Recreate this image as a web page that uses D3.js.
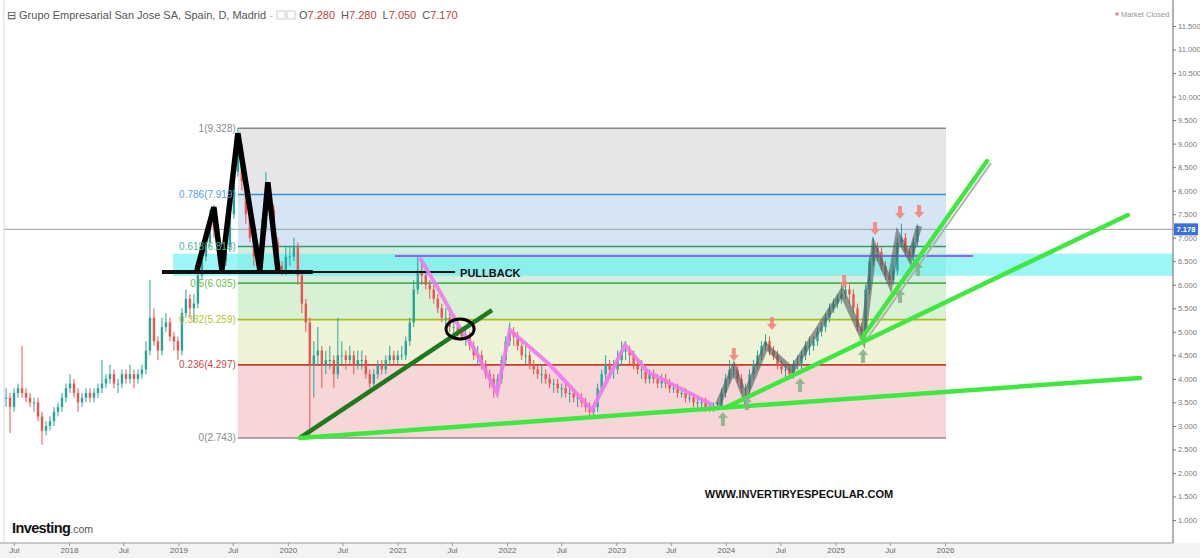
<!DOCTYPE html>
<html><head><meta charset="utf-8">
<script src="https://cdn.jsdelivr.net/npm/d3@7"></script>
<style>
body{margin:0;background:#fff;}
svg{display:block;font-family:"Liberation Sans",Arial,sans-serif;}
</style>
</head><body>
<svg id="c" width="1200" height="558"></svg>
<script>
// ---------- DATA ----------
const firstBarDate = "2017-06-05";
const lastBarDate  = "2025-10-01";
const closes = [
3.6,3.4,3.7,3.8,3.7,3.6,3.5,3.5,3.2,2.9,
3.0,3.1,3.3,3.4,3.6,3.8,3.9,3.7,3.5,3.6,
3.7,3.6,3.7,3.8,3.9,4.0,4.1,3.9,3.9,4.1,
4.0,4.1,4.0,4.1,4.2,4.6,5.3,4.8,4.6,5.1,
5.2,4.9,4.8,4.6,5.4,5.7,5.5,5.6,6.2,6.6,
6.9,7.3,7.2,6.8,6.5,6.8,7.5,8.4,8.9,8.2,
7.5,7.0,6.6,6.5,7.2,7.9,7.6,6.9,6.4,6.3,
6.6,6.6,6.8,6.2,5.6,5.2,4.3,4.5,4.6,4.3,
4.4,4.4,4.1,4.5,4.5,4.4,4.5,4.3,4.4,4.4,
4.1,3.9,4.1,4.3,4.2,4.4,4.5,4.4,4.5,4.5,
4.8,5.2,5.9,6.3,6.2,6.0,5.9,5.7,5.5,5.3,
5.3,5.1,5.1,5.0,4.9,4.9,4.7,4.5,4.5,4.3,
4.1,4.0,3.8,4.0,4.4,4.8,5.0,4.9,4.7,4.5,
4.5,4.3,4.2,4.1,4.1,4.0,3.9,3.9,3.8,3.8,
3.7,3.7,3.6,3.6,3.5,3.4,3.3,3.4,3.8,4.1,
4.3,4.2,4.2,4.4,4.6,4.6,4.5,4.3,4.2,4.2,
4.0,4.1,4.0,3.9,4.0,3.9,3.8,3.8,3.7,3.7,
3.6,3.6,3.5,3.5,3.5,3.4,3.4,3.4,3.4,3.7,
4.0,4.2,4.2,4.0,3.8,3.8,4.1,4.3,4.5,4.7,
4.8,4.6,4.5,4.3,4.2,4.2,4.1,4.3,4.3,4.5,
4.7,4.7,4.8,5.0,5.1,5.3,5.5,5.6,5.7,5.8,
5.9,5.8,5.5,5.1,5.0,5.9,6.5,6.8,6.7,6.4,
6.2,6.1,6.3,6.9,7.0,6.7,6.6,6.9,7.17];
const highs = [
3.8,3.7,3.8,3.9,4.7,3.8,3.7,3.6,3.6,3.3,
3.1,3.2,3.4,3.5,3.7,3.9,4.1,4.0,3.8,3.7,
3.8,3.8,3.8,3.9,4.4,4.1,4.3,4.2,4.0,4.2,
4.2,4.3,4.2,4.2,4.3,4.8,6.1,5.5,4.9,5.3,
5.4,5.3,5.0,4.9,5.5,5.9,5.8,5.8,6.3,6.8,
7.1,7.6,7.7,7.3,6.9,7.0,7.7,8.7,9.33,9.0,
8.3,7.6,7.1,6.7,7.4,8.4,8.1,7.7,7.0,6.5,
6.8,6.8,7.0,6.9,6.3,5.7,5.3,4.8,5.1,4.7,
4.6,4.7,4.5,5.3,4.8,4.6,4.7,4.6,4.6,4.6,
4.5,4.2,4.2,4.4,4.4,4.5,4.7,4.6,4.6,4.7,
4.9,5.3,6.1,6.6,6.5,6.3,6.1,6.0,5.8,5.6,
5.5,5.4,5.3,5.2,5.1,5.1,5.0,4.8,4.7,4.6,
4.4,4.2,4.1,4.1,4.5,4.9,5.2,5.1,5.0,4.8,
4.7,4.6,4.4,4.3,4.3,4.2,4.1,4.0,4.0,3.9,
3.9,3.8,3.8,3.7,3.7,3.6,3.5,3.5,3.9,4.2,
4.5,4.4,4.4,4.6,4.8,4.8,4.7,4.6,4.4,4.4,
4.3,4.2,4.2,4.1,4.1,4.1,4.0,3.9,3.9,3.8,
3.8,3.7,3.7,3.6,3.6,3.6,3.5,3.5,3.5,3.8,
4.1,4.4,4.3,4.3,4.1,3.9,4.2,4.4,4.6,4.8,
4.95,4.9,4.7,4.6,4.4,4.3,4.3,4.4,4.5,4.6,
4.8,4.9,4.9,5.1,5.2,5.4,5.6,5.7,5.8,6.0,
6.1,6.0,5.9,5.6,5.2,6.0,6.6,7.0,6.9,6.8,
6.5,6.3,6.4,7.0,7.3,7.1,6.8,7.0,7.28];
const lows = [
3.4,2.85,3.3,3.6,3.6,3.5,3.4,3.3,3.1,2.6,
2.8,2.9,3.0,3.2,3.3,3.5,3.7,3.6,3.3,3.4,
3.5,3.5,3.5,3.6,3.7,3.8,3.9,3.8,3.7,3.8,
3.9,3.9,3.8,3.9,4.0,4.1,4.5,4.7,4.4,4.5,
5.0,4.8,4.6,4.4,4.5,5.3,5.3,5.2,5.5,6.1,
6.5,6.8,7.0,6.6,6.3,6.4,6.7,7.4,8.3,8.0,
7.3,6.9,6.4,6.3,6.4,7.1,7.4,6.8,6.3,6.2,
6.2,6.4,6.5,6.0,5.4,5.0,2.74,3.6,4.3,3.8,
4.1,4.2,3.8,4.0,4.3,4.2,4.3,4.1,4.2,4.2,
4.0,3.8,3.8,4.0,4.1,4.1,4.3,4.3,4.3,4.4,
4.4,4.7,5.1,5.8,6.0,5.9,5.7,5.6,5.4,5.2,
5.1,5.0,4.9,4.9,4.8,4.7,4.6,4.4,4.3,4.2,
4.0,3.8,3.6,3.7,3.9,4.3,4.7,4.7,4.6,4.4,
4.3,4.2,4.1,4.0,3.9,3.9,3.8,3.7,3.7,3.6,
3.6,3.5,3.5,3.4,3.4,3.3,3.2,3.2,3.3,3.7,
4.0,4.0,4.0,4.1,4.3,4.4,4.3,4.2,4.1,4.0,
3.9,3.9,3.9,3.8,3.8,3.8,3.7,3.7,3.6,3.6,
3.5,3.5,3.4,3.4,3.4,3.3,3.3,3.3,3.35,3.4,
3.6,3.9,4.0,3.9,3.7,3.6,3.7,4.0,4.2,4.4,
4.6,4.5,4.4,4.2,4.1,4.0,4.0,4.0,4.2,4.2,
4.4,4.5,4.6,4.7,4.9,5.0,5.2,5.4,5.5,5.6,
5.7,5.6,5.4,5.0,4.85,4.9,5.8,6.4,6.5,6.3,
6.1,6.0,6.0,6.2,6.8,6.6,6.5,6.5,6.8];

const xTickDates  = ["2017-07-01","2018-01-01","2018-07-01","2019-01-01","2019-07-01","2020-01-01","2020-07-01","2021-01-01","2021-07-01","2022-01-01","2022-07-01","2023-01-01","2023-07-01","2024-01-01","2024-07-01","2025-01-01","2025-07-01","2026-01-01"];
const xTickLabels = ["Jul","2018","Jul","2019","Jul","2020","Jul","2021","Jul","2022","Jul","2023","Jul","2024","Jul","2025","Jul","2026"];
const yTicks = [1,1.5,2,2.5,3,3.5,4,4.5,5,5.5,6,6.5,7,7.5,8,8.5,9,9.5,10,10.5,11,11.5];

const fibRatios = [1,0.786,0.618,0.5,0.382,0.236,0];
const fibLabels = ["1(9.328)","0.786(7.919)","0.618(6.813)","0.5(6.035)","0.382(5.259)","0.236(4.297)","0(2.743)"];
const fibHigh = 9.328, fibLow = 2.743;
const fibSpan = [2019.543, 2026.009];          // decimal years
const lastPrice = 7.178;

// drawings (decimal year, price)
const cyanBandSpan = [2018.95, 2028.5], cyanBandPrices = [6.19, 6.66];
const purpleLine = [[2020.977,6.61],[2026.256,6.61]];
const necklineThick = [[2018.849,6.27],[2020.228,6.27]];
const necklineThin  = [[2020.228,6.27],[2021.525,6.27]];
const mPattern = [[2019.169,6.31],[2019.324,7.65],[2019.397,6.31],[2019.543,9.22],[2019.744,6.31],[2019.817,8.18],[2019.909,6.31]];
const darkGreenLine = [[2020.110,2.743],[2021.863,5.463]];
const greenLines = [
  [[2020.110,2.743],[2027.781,4.018]],
  [[2024.009,3.402],[2027.671,7.482]],
  [[2025.242,4.868],[2026.384,8.630]]];
const pinkPath = [[2021.205,6.569],[2021.388,5.846],[2021.553,5.144],[2021.708,4.613],[2021.909,3.699],[2022.027,5.038],[2022.393,4.294],[2022.776,3.338],[2023.078,4.719],[2023.288,4.146],[2023.881,3.444]];
const grayPath = [[2023.927,3.444],[2024.073,4.231],[2024.174,3.614],[2024.365,4.698],[2024.603,4.188],[2025.059,5.846],[2025.251,4.868],[2025.352,6.802],[2025.498,6.037],[2025.571,7.036],[2025.680,6.569],[2025.763,7.249]];
const redArrows = [[2024.073,4.379],[2024.420,5.038],[2025.078,5.931],[2025.361,7.057],[2025.589,7.397],[2025.763,7.419]];
const greenArrows = [[2023.973,3.295],[2024.192,3.636],[2024.676,4.018],[2025.251,4.634],[2025.589,5.910],[2025.753,6.483]];
const circleAt = [2021.571, 5.06];
const pullbackAt = [2021.571, 6.27];
const siteTextAt = [2023.808, 1.47];

// ---------- SCALES ----------
const svg = d3.select("#c");
const W = 1200, H = 558, plotL = 4, plotR = 1173, plotB = 543;
const x = d3.scaleUtc().domain([new Date(Date.UTC(2018,0,1)), new Date(Date.UTC(2026,0,1))]).range([69,945]);
const y = d3.scaleLinear().domain([1,11.5]).range([520,26]);
function yd(f){const yr=Math.floor(f);const s=Date.UTC(yr,0,1),e=Date.UTC(yr+1,0,1);return new Date(s+(f-yr)*(e-s));}
const X = f => x(yd(f));
const line = d3.line().x(d=>X(d[0])).y(d=>y(d[1]));

svg.append("rect").attr("width",W).attr("height",H).attr("fill","#fff");
svg.append("defs").append("clipPath").attr("id","clip").append("rect")
  .attr("x",plotL).attr("y",0).attr("width",plotR-plotL).attr("height",plotB);
const g = svg.append("g").attr("clip-path","url(#clip)");

// ---------- FIB ----------
const fibFill = ["#e6e6e8","#d5e5f4","#d3ede0","#d8f0d4","#eef3d8","#f6d6d6"];
const fibLine = ["#8a8a8a","#3a8fd0","#2e9e70","#4caf50","#a4bd1a","#c33a30","#9a8888"];
const fibText = ["#8a8a8a","#5ba0d6","#4cb495","#6abd4e","#b8c430","#cc4a44","#8a8a8a"];
const fibVal = r => fibLow + r*(fibHigh-fibLow);
const fx0 = X(fibSpan[0]), fx1 = X(fibSpan[1]);
for(let i=0;i<fibRatios.length-1;i++){
  g.append("rect").attr("x",fx0).attr("width",fx1-fx0)
   .attr("y",y(fibVal(fibRatios[i]))).attr("height",y(fibVal(fibRatios[i+1]))-y(fibVal(fibRatios[i])))
   .attr("fill",fibFill[i]);
}
// cyan band
g.append("rect").attr("x",X(cyanBandSpan[0])).attr("width",X(cyanBandSpan[1])-X(cyanBandSpan[0]))
 .attr("y",y(cyanBandPrices[1])).attr("height",y(cyanBandPrices[0])-y(cyanBandPrices[1]))
 .attr("fill","#5ff0f0").attr("opacity",0.62);
fibRatios.forEach((r,i)=>{
  g.append("line").attr("x1",fx0).attr("x2",fx1).attr("y1",y(fibVal(r))).attr("y2",y(fibVal(r)))
   .attr("stroke",fibLine[i]).attr("stroke-width",1.6);
  svg.append("text").attr("x",fx0-2).attr("y",y(fibVal(r))+3.5).attr("text-anchor","end")
   .attr("font-size",10).attr("fill",fibText[i]).text(fibLabels[i]);
});

// last price line
g.append("line").attr("x1",0).attr("x2",plotR).attr("y1",y(lastPrice)).attr("y2",y(lastPrice))
 .attr("stroke","#a0a0a0").attr("stroke-width",1);

// ---------- CANDLES ----------
const t0 = new Date(firstBarDate+"T00:00:00Z"), t1 = new Date(lastBarDate+"T00:00:00Z");
const n = closes.length;
const bars = closes.map((c,i)=>({
  date:new Date(+t0 + (t1-t0)*i/(n-1)),
  o: i?closes[i-1]:c, c, h:highs[i], l:lows[i]}));
const cg = g.append("g");
bars.forEach(b=>{
  const col = b.c>=b.o ? "#26a69a" : "#ef5350";
  const cx = x(b.date);
  cg.append("line").attr("x1",cx).attr("x2",cx).attr("y1",y(b.h)).attr("y2",y(b.l)).attr("stroke",col).attr("stroke-width",1);
  const top = y(Math.max(b.o,b.c)), bot = y(Math.min(b.o,b.c));
  cg.append("rect").attr("x",cx-1.2).attr("width",2.4).attr("y",top).attr("height",Math.max(1,bot-top)).attr("fill",col);
});

// ---------- DRAWINGS ----------
g.append("path").datum(purpleLine).attr("d",line).attr("stroke","#9b5ff0").attr("stroke-width",2).attr("fill","none");
g.append("path").datum(necklineThin).attr("d",line).attr("stroke","#111").attr("stroke-width",2).attr("fill","none");
g.append("path").datum(necklineThick).attr("d",line).attr("stroke","#111").attr("stroke-width",4).attr("fill","none");
g.append("path").datum(mPattern).attr("d",line).attr("stroke","#000").attr("stroke-width",5.5).attr("fill","none").attr("stroke-linejoin","miter");
g.append("path").datum(pinkPath).attr("d",line).attr("stroke","#f07af0").attr("stroke-width",4).attr("fill","none").attr("opacity",0.9);
g.append("path").datum(darkGreenLine).attr("d",line).attr("stroke","#1f7a1f").attr("stroke-width",4.5).attr("fill","none");
g.append("path").datum(grayPath).attr("d",line).attr("stroke","#505a5a").attr("stroke-width",6).attr("fill","none").attr("opacity",0.6);
g.append("path").datum(greenLines[2]).attr("d",line).attr("stroke","#b0b0b0").attr("stroke-width",2).attr("fill","none")
 .attr("transform","translate(4,2)");
greenLines.forEach(l=>g.append("path").datum(l).attr("d",line).attr("stroke","#3ee83e").attr("stroke-width",4.5).attr("fill","none").attr("stroke-linecap","round"));
g.append("ellipse").attr("cx",X(circleAt[0])).attr("cy",y(circleAt[1])).attr("rx",14).attr("ry",10)
 .attr("fill","none").attr("stroke","#000").attr("stroke-width",3);

// arrows
const downArrow = "M0,0 L-5,-6 L-2,-6 L-2,-13 L2,-13 L2,-6 L5,-6 Z";
const upArrow   = "M0,0 L-5,6 L-2,6 L-2,14 L2,14 L2,6 L5,6 Z";
redArrows.forEach(a=>g.append("path").attr("d",downArrow).attr("transform",`translate(${X(a[0])},${y(a[1])})`).attr("fill","#f2857c").attr("opacity",0.9));
greenArrows.forEach(a=>g.append("path").attr("d",upArrow).attr("transform",`translate(${X(a[0])},${y(a[1])})`).attr("fill","#86b486").attr("opacity",0.9));

// texts
g.append("text").attr("x",X(pullbackAt[0])).attr("y",y(pullbackAt[1])+5).attr("font-size",11).attr("font-weight","bold")
 .attr("fill","#111").text("PULLBACK");
g.append("text").attr("x",X(siteTextAt[0])).attr("y",y(siteTextAt[1])).attr("font-size",11).attr("font-weight","bold")
 .attr("fill","#111").text("WWW.INVERTIRYESPECULAR.COM");

// ---------- FRAME & AXES ----------
svg.append("rect").attr("x",0).attr("y",plotB).attr("width",W).attr("height",H-plotB).attr("fill","#f3f3f3");
svg.append("line").attr("x1",plotL).attr("x2",plotL).attr("y1",0).attr("y2",plotB).attr("stroke","#d8d8d8");
svg.append("line").attr("x1",0).attr("x2",plotR).attr("y1",plotB).attr("y2",plotB).attr("stroke","#b8b8b8").attr("stroke-width",1.5);
svg.append("line").attr("x1",plotR).attr("x2",plotR).attr("y1",0).attr("y2",plotB).attr("stroke","#666");

const ya = svg.append("g").attr("transform",`translate(${plotR},0)`)
  .call(d3.axisRight(y).tickValues(yTicks).tickFormat(d3.format(".3f")).tickSize(3).tickPadding(2));
ya.select(".domain").remove();
ya.selectAll("line").attr("stroke","#777");
ya.selectAll("text").attr("font-size",7.6).attr("fill","#777").attr("font-family","Liberation Sans, Arial");

const xa = svg.append("g").attr("transform",`translate(0,${plotB})`)
  .call(d3.axisBottom(x).tickValues(xTickDates.map(d=>new Date(d+"T00:00:00Z"))).tickFormat((d,i)=>xTickLabels[i]).tickSize(3).tickPadding(1));
xa.select(".domain").remove();
xa.selectAll("line").attr("stroke","#999");
xa.selectAll("text").attr("font-size",8).attr("fill","#666").attr("font-family","Liberation Sans, Arial");

// last price tag
svg.append("rect").attr("x",plotR+1).attr("y",y(lastPrice)-6).attr("width",24).attr("height",12).attr("fill","#3b6fd9");
svg.append("text").attr("x",plotR+13).attr("y",y(lastPrice)+3).attr("text-anchor","middle").attr("font-size",7.6)
 .attr("font-weight","bold").attr("fill","#fff").text(lastPrice.toFixed(3));

// header
const hdr = svg.append("text").attr("x",7).attr("y",19).attr("font-size",11).attr("fill","#555");
hdr.append("tspan").text("⊟ ");
hdr.append("tspan").text("Grupo Empresarial San Jose SA, Spain, D, Madrid");
hdr.append("tspan").attr("fill","#bbb").text(" - ");
svg.append("rect").attr("x",277).attr("y",11).attr("width",8).attr("height",8).attr("fill","none").attr("stroke","#ccc");
svg.append("rect").attr("x",287).attr("y",11).attr("width",8).attr("height",8).attr("fill","none").attr("stroke","#ccc");
const ohlc = [["O","7.280"],["H","7.280"],["L","7.050"],["C","7.170"]];
const oh = svg.append("text").attr("x",299).attr("y",19).attr("font-size",11).attr("fill","#555");
ohlc.forEach((p,i)=>{oh.append("tspan").attr("dx",i?6:0).text(p[0]);oh.append("tspan").attr("fill","#b5443a").text(p[1]);});

svg.append("circle").attr("cx",1117).attr("cy",14).attr("r",1.8).attr("fill","#d88");
svg.append("text").attr("x",1121).attr("y",17).attr("font-size",7.5).attr("fill","#999").text("Market Closed");

// logo
const logo = svg.append("text").attr("x",12).attr("y",533);
logo.append("tspan").attr("font-size",14.5).attr("font-weight","bold").attr("fill","#111").attr("letter-spacing",-0.6).text("Investing");
logo.append("tspan").attr("font-size",10.5).attr("fill","#555").text(".com");
</script>
</body></html>
